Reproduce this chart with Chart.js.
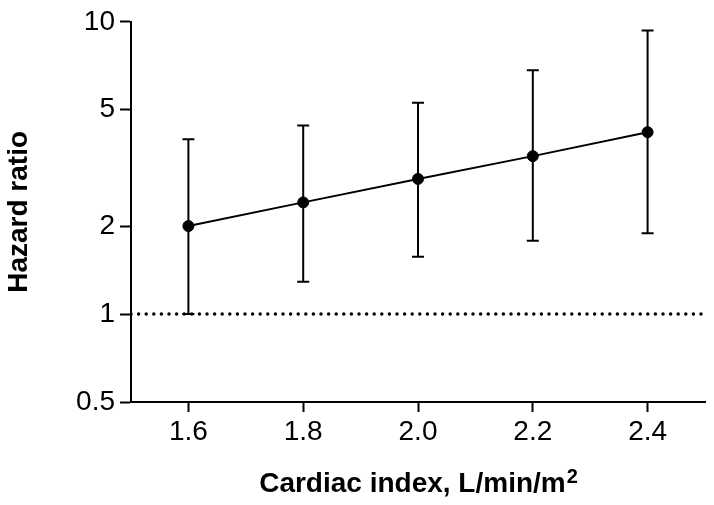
<!DOCTYPE html>
<html>
<head>
<meta charset="utf-8">
<script src="https://cdn.jsdelivr.net/npm/chart.js@4/dist/chart.umd.min.js"></script>
<style>
  html, body { margin: 0; padding: 0; background: #ffffff; }
  #wrap { width: 714px; height: 505px; }
</style>
</head>
<body>
<div id="wrap"><canvas id="c" width="714" height="505"></canvas></div>
<script>
const cardiacIndex = [1.6, 1.8, 2.0, 2.2, 2.4];
const hazardRatio = [2.0, 2.41, 2.90, 3.47, 4.19];
const ciUpper = [3.96, 4.42, 5.28, 6.83, 9.33];
const ciLower = [1.0, 1.29, 1.57, 1.78, 1.89];
const xTickValues = [1.6, 1.8, 2.0, 2.2, 2.4];
const yTickValues = [0.5, 1, 2, 5, 10];
const referenceHR = 1;
const xRange = [1.5, 2.5];
const yRange = [0.5, 10];
const xTitle = 'Cardiac index, L/min/m';
const xTitleSup = '2';
const yTitle = 'Hazard ratio';

const FONT = "'Liberation Sans', Arial, Helvetica, sans-serif";

const errorBars = {
  id: 'errorBars',
  beforeDatasetsDraw(chart) {
    const { ctx, scales: { x, y } } = chart;
    ctx.save();
    ctx.strokeStyle = '#000';
    ctx.lineWidth = 2;
    const cap = 6;
    cardiacIndex.forEach((cx, i) => {
      const px = x.getPixelForValue(cx);
      const pu = y.getPixelForValue(ciUpper[i]);
      const pl = y.getPixelForValue(ciLower[i]);
      ctx.beginPath();
      ctx.moveTo(px, pu); ctx.lineTo(px, pl);
      ctx.moveTo(px - cap, pu); ctx.lineTo(px + cap, pu);
      ctx.moveTo(px - cap, pl); ctx.lineTo(px + cap, pl);
      ctx.stroke();
    });
    ctx.restore();
  }
};

const xTitlePlugin = {
  id: 'xTitlePlugin',
  afterDraw(chart) {
    const { ctx, chartArea } = chart;
    ctx.save();
    ctx.fillStyle = '#000';
    ctx.textBaseline = 'alphabetic';
    ctx.textAlign = 'left';
    const mainFont = "bold 28px " + FONT;
    const supFont = "bold 20px " + FONT;
    ctx.font = mainFont;
    const w1 = ctx.measureText(xTitle).width;
    ctx.font = supFont;
    const w2 = ctx.measureText(xTitleSup).width;
    const cx = (chartArea.left + chartArea.right) / 2;
    const x0 = cx - (w1 + w2) / 2;
    ctx.font = mainFont;
    ctx.fillText(xTitle, x0, 492);
    ctx.font = supFont;
    ctx.fillText(xTitleSup, x0 + w1 + 1, 483);
    ctx.restore();
  }
};

new Chart(document.getElementById('c'), {
  type: 'line',
  data: {
    datasets: [
      {
        label: 'ref',
        data: xRange.map(v => ({ x: v, y: referenceHR })),
        borderColor: '#000',
        borderWidth: 3.5,
        borderDash: [0, 7.6],
        borderCapStyle: 'round',
        pointRadius: 0,
        order: 2
      },
      {
        label: 'HR',
        data: cardiacIndex.map((v, i) => ({ x: v, y: hazardRatio[i] })),
        borderColor: '#000',
        borderWidth: 2,
        pointRadius: 5.5,
        pointBackgroundColor: '#000',
        pointBorderColor: '#000',
        pointBorderWidth: 1,
        tension: 0,
        order: 1
      }
    ]
  },
  options: {
    responsive: false,
    animation: false,
    layout: { padding: { top: 17, right: 9, left: 0, bottom: 0 } },
    plugins: { legend: { display: false }, tooltip: { enabled: false } },
    scales: {
      x: {
        type: 'linear',
        min: xRange[0],
        max: xRange[1],
        afterBuildTicks: s => { s.ticks = xTickValues.map(v => ({ value: v })); },
        afterFit: s => { s.height = 103; },
        ticks: {
          color: '#000',
          font: { family: FONT, size: 28 },
          padding: 3,
          maxRotation: 0,
          autoSkip: false,
          callback: v => Number(v).toFixed(1)
        },
        grid: { display: true, drawOnChartArea: false, drawTicks: true, tickLength: 10, tickWidth: 2, tickColor: '#000' },
        border: { display: true, color: '#000', width: 2 }
      },
      y: {
        type: 'logarithmic',
        min: yRange[0],
        max: yRange[1],
        afterBuildTicks: s => { s.ticks = yTickValues.map(v => ({ value: v })); },
        afterFit: s => { s.width = 131; },
        ticks: {
          color: '#000',
          font: { family: FONT, size: 28 },
          padding: 5,
          autoSkip: false,
          callback: v => String(v)
        },
        title: {
          display: true,
          text: yTitle,
          color: '#000',
          font: { family: FONT, size: 28, weight: 'bold' },
          padding: { top: 2, bottom: 0 }
        },
        grid: { display: true, drawOnChartArea: false, drawTicks: true, tickLength: 11, tickWidth: 2, tickColor: '#000' },
        border: { display: true, color: '#000', width: 2 }
      }
    }
  },
  plugins: [errorBars, xTitlePlugin]
});
</script>
</body>
</html>
